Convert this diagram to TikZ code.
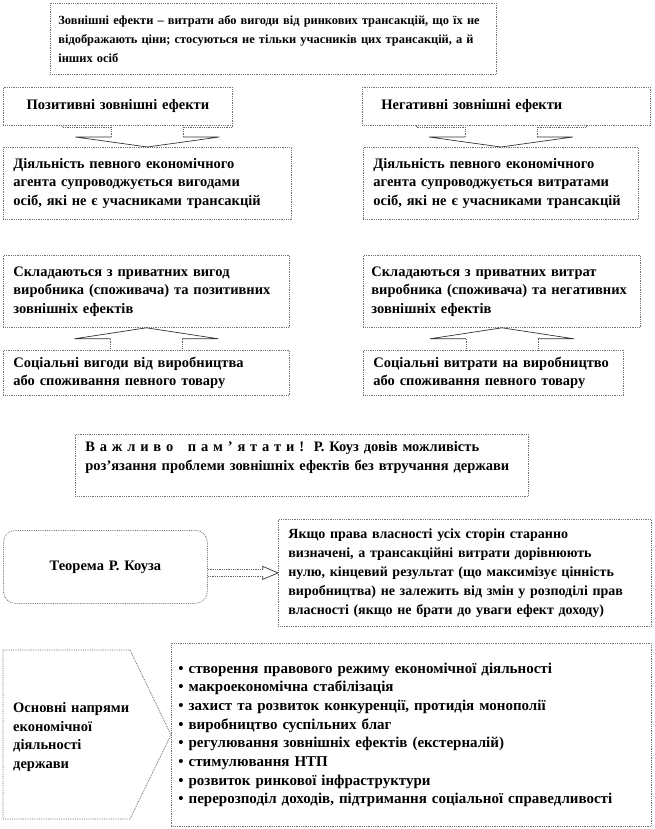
\documentclass[tikz,border=0pt]{standalone}
\usepackage{fontspec}
\setmainfont{Liberation Serif}
\usetikzlibrary{calc}

\begin{document}
\begin{tikzpicture}[x=1pt, y=-1pt, font=\bfseries\fontsize{14.5}{18.5}\selectfont,
  box/.style={rectangle, draw=black!55, densely dotted, line width=0.8pt, fill=white,
              anchor=north west, align=left, inner xsep=10pt, inner ysep=0pt},
  head/.style={draw=black!80, line width=0.7pt},
  stub/.style={draw=black!60, densely dotted, line width=0.8pt}]
  \useasboundingbox (0,0) rectangle (654,829);

  \node[box, text width=430pt, inner xsep=8pt, minimum height=71pt,
        font=\bfseries\fontsize{12.4}{19}\selectfont] (def) at (50,3)
    {Зовнішні ефекти -- витрати або вигоди від ринкових трансакцій, що їх не\\
     відображають ціни; стосуються не тільки учасників цих трансакцій, а й\\
     інших осіб};

  \node[box, align=center, text width=209pt, minimum height=38pt] (pos) at (3,87)
    {Позитивні зовнішні ефекти};
  \node[box, text width=250pt, inner xsep=19pt, minimum height=38pt] (neg) at (362,87)
    {Негативні зовнішні ефекти};

  \node[box, text width=268pt, minimum height=72pt] (pos1) at (3,147)
    {Діяльність певного економічного\\ агента супроводжується вигодами\\
     осіб, які не є учасниками трансакцій};
  \node[box, text width=255pt, minimum height=72pt] (neg1) at (363,147)
    {Діяльність певного економічного\\ агента супроводжується витратами\\
     осіб, які не є учасниками трансакцій};

  \node[box, text width=266pt, minimum height=72pt] (pos2) at (3,255)
    {Складаються з приватних вигод\\ виробника (споживача) та позитивних\\
     зовнішніх ефектів};
  \node[box, text width=261pt, inner xsep=8pt, minimum height=72pt] (neg2) at (363,255)
    {Складаються з приватних витрат\\ виробника (споживача) та негативних\\
     зовнішніх ефектів};

  \node[box, text width=266pt, minimum height=45pt] (pos3) at (3,350)
    {Соціальні вигоди від виробництва\\ або споживання певного товару};
  \node[box, text width=240pt, minimum height=45pt] (neg3) at (363,350)
    {Соціальні витрати на виробництво\\ або споживання певного товару};

  % split arrows down
  \draw[head] ($(pos1.north)+(-36,-10)$) -- ++(-36,0) -- (pos1.north) -- ++(72,-10) -- ++(-36,0);
  \draw[stub] ($(pos1.north)+(-36,-10)$) -- ++(0,-10) -- ++(-49,0) -- ++(0,-2);
  \draw[stub] ($(pos1.north)+(36,-10)$) -- ++(0,-10) -- ++(49,0) -- ++(0,-2);
  \draw[head] ($(neg1.north)+(-36,-10)$) -- ++(-36,0) -- (neg1.north) -- ++(72,-10) -- ++(-36,0);
  \draw[stub] ($(neg1.north)+(-36,-10)$) -- ++(0,-10) -- ++(-49,0) -- ++(0,-2);
  \draw[stub] ($(neg1.north)+(36,-10)$) -- ++(0,-10) -- ++(49,0) -- ++(0,-2);

  % split arrows up
  \draw[head] ($(pos2.south)+(-36,11)$) -- ++(-36,0) -- (pos2.south) -- ++(72,11) -- ++(-36,0);
  \draw[stub] ($(pos2.south)+(-36,11)$) -- ++(0,12);
  \draw[stub] ($(pos2.south)+(36,11)$) -- ++(0,12);
  \draw[head] ($(neg2.south)+(-36,11)$) -- ++(-36,0) -- (neg2.south) -- ++(72,11) -- ++(-36,0);
  \draw[stub] ($(neg2.south)+(-36,11)$) -- ++(0,12);
  \draw[stub] ($(neg2.south)+(36,11)$) -- ++(0,12);

  \node[box, text width=433pt, minimum height=62pt] (note) at (75,434)
    {В а ж л и в о\ \ \ п а м ’ я т а т и !\ \ Р. Коуз довів можливість\\
     роз’язання проблеми зовнішніх ефектів без втручання держави\\ \mbox{}};

  \node[box, rounded corners=12pt, align=center, text width=184pt, minimum height=73pt] (thm) at (3,530)
    {Теорема Р. Коуза};
  \node[box, text width=353pt, minimum height=107pt, font=\bfseries\fontsize{14}{19}\selectfont] (coase) at (278,519)
    {Якщо права власності усіх сторін старанно\\
     визначені, а трансакційні витрати дорівнюють\\
     нулю, кінцевий результат (що максимізує цінність\\
     виробництва) не залежить від змін у розподілі прав\\
     власності (якщо не брати до уваги ефект доходу)};
  \coordinate (a0) at (thm.east |- coase.west);
  \draw[stub] ($(a0)+(0,-3.5)$) -- ++(55,0) ($(a0)+(55,3.5)$) -- ++(-55,0);
  \draw[head] ($(a0)+(55,-3.5)$) -- ++(0,-3) -- (coase.west) -- ($(a0)+(55,6.5)$) -- ++(0,-3);

  \node[box, text width=466pt, inner xsep=7pt, minimum height=183pt,
        font=\bfseries\fontsize{15}{18.7}\selectfont] (list) at (171,643)
    {• створення правового режиму економічної діяльності\\
     • макроекономічна стабілізація\\
     • захист та розвиток конкуренції, протидія монополії\\
     • виробництво суспільних благ\\
     • регулювання зовнішніх ефектів (екстерналій)\\
     • стимулювання НТП\\
     • розвиток ринкової інфраструктури\\
     • перерозподіл доходів, підтримання соціальної справедливості};
  \draw[stub] (list.west) -- (130,819) -- (3,819) -- (3,650) -- (130,650) -- cycle;
  \node[anchor=west, align=left, text width=120pt, inner sep=0pt] (dirs) at (13,737)
    {Основні напрями\\ економічної\\ діяльності\\ держави};
\end{tikzpicture}
\end{document}
